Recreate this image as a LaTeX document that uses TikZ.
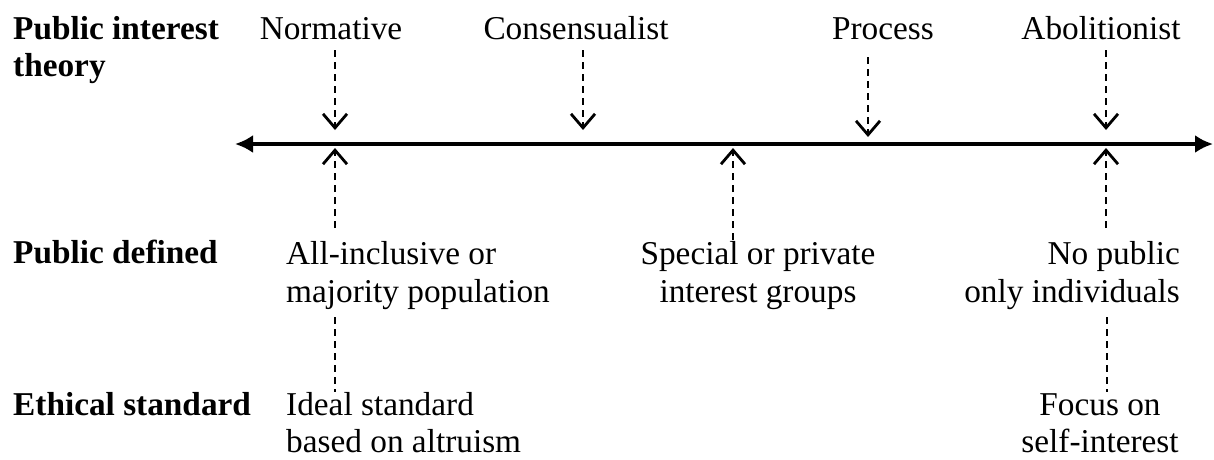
\documentclass[tikz,border=0pt]{standalone}
\usepackage{fontspec}
\setmainfont{Liberation Serif}
\usetikzlibrary{arrows.meta}
\begin{document}
\begin{tikzpicture}[x=1pt,y=-1pt,
  lbl/.style={font=\fontsize{33.3}{38}\selectfont, inner sep=0pt, align=left},
  hd/.style={inner sep=0pt, align=left, font=\fontsize{33.3}{37}\selectfont\bfseries},
  dasharrow/.style={line width=2.8pt, dash pattern=on 7pt off 5pt,
    -{Straight Barb[length=14pt,width=24pt,line width=2.8pt]}},
  dline/.style={line width=2.8pt, dash pattern=on 7pt off 5pt},
  axisline/.style={line width=3.4pt,
    {Latex[length=18pt,width=18pt]}-{Latex[length=18pt,width=18pt]}}]
\useasboundingbox (0,0) rectangle (1214,459);

% row labels (anchor base = baseline of last line)
\node[hd, anchor=base west] (h1) at (13,76) {Public interest\\theory};
\node[hd, anchor=base west] (h2) at (13,263) {Public defined};
\node[hd, anchor=base west] (h3) at (13,415) {Ethical standard};

% theories
\node[lbl, anchor=base] (norm) at (331,39) {Normative};
\node[lbl, anchor=base] (cons) at (576,39) {Consensualist};
\node[lbl, anchor=base] (proc) at (883,39) {Process};
\node[lbl, anchor=base] (abol) at (1101,39) {Abolitionist};

% public defined
\node[lbl, anchor=base west] (allinc) at (286,302) {All-inclusive or\\majority population};
\node[lbl, anchor=base, align=center] (spec) at (758,302) {Special or private\\interest groups};
\node[lbl, anchor=base east, align=right] (nopub) at (1180,302) {No public\\only individuals};

% ethical standard
\node[lbl, anchor=base west, font=\fontsize{33.3}{37}\selectfont] (ideal) at (286,452) {Ideal standard\\based on altruism};
\node[lbl, anchor=base, align=center, font=\fontsize{33.3}{37}\selectfont] (focus) at (1100,452) {Focus on\\self-interest};

% axis
\coordinate (axL) at (235,144);
\coordinate (axR) at (1213,144);
\draw[axisline] (axL) -- (axR);

% down arrows
\coordinate (nS) at (335,50);  \coordinate (nT) at (335,130);
\coordinate (cS) at (583,50);  \coordinate (cT) at (583,130);
\coordinate (pS) at (868,57);  \coordinate (pT) at (868,137);
\coordinate (aS) at (1106,50); \coordinate (aT) at (1106,130);
\draw[dasharrow] (nS) -- (nT);
\draw[dasharrow] (cS) -- (cT);
\draw[dasharrow] (pS) -- (pT);
\draw[dasharrow] (aS) -- (aT);

% up arrows
\coordinate (nU) at (335,228);  \coordinate (nUT) at (335,148);
\coordinate (sU) at (733,240);  \coordinate (sUT) at (733,148);
\coordinate (aU) at (1106,228); \coordinate (aUT) at (1106,148);
\draw[dasharrow] (nU) -- (nUT);
\draw[dasharrow] (sU) -- (sUT);
\draw[dasharrow] (aU) -- (aUT);

% lower dashed lines
\coordinate (nL1) at (335,317);  \coordinate (nL2) at (335,392);
\coordinate (aL1) at (1107,317); \coordinate (aL2) at (1107,392);
\draw[dline] (nL1) -- (nL2);
\draw[dline] (aL1) -- (aL2);
\end{tikzpicture}
\end{document}
